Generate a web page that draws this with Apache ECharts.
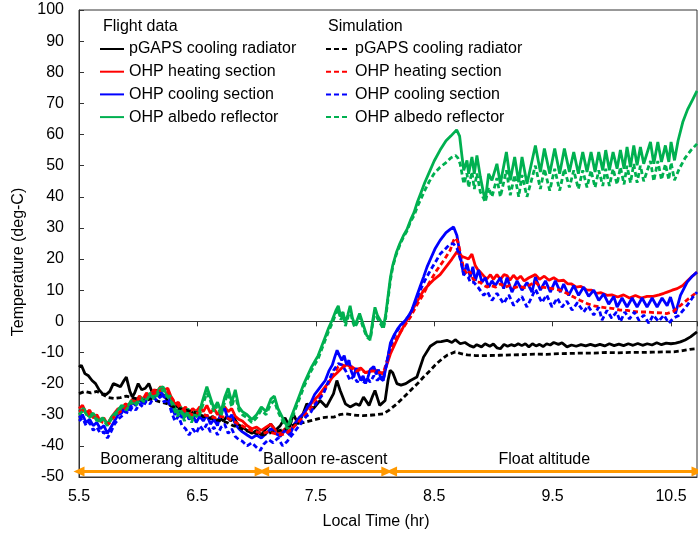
<!DOCTYPE html>
<html><head><meta charset="utf-8">
<script src="https://cdn.jsdelivr.net/npm/echarts@6/dist/echarts.min.js"></script>
<style>html,body{margin:0;padding:0;background:#fff}#c{width:698px;height:534px}</style>
</head><body><div id="c"></div>
<script>
// ---------- DATA ----------
const flightNames = ['pGAPS cooling radiator','OHP heating section','OHP cooling section','OHP albedo reflector'];
const simPrefix = 'Sim: ';
const xTicksStart = 5.5, xEnd = 10.72;
const yTicks = [-50, 100, 10];

const pgapsFlight = [[5.50,-14.7],[5.52,-14.1],[5.55,-16.8],[5.58,-17.5],[5.61,-19],[5.64,-20],[5.67,-22],[5.70,-23.3],[5.73,-23.5],[5.76,-22.5],[5.79,-20],[5.82,-20.5],[5.85,-21],[5.88,-19],[5.90,-17.9],[5.93,-22.5],[5.95,-24.3],[5.97,-23],[6.00,-20],[6.03,-22],[6.06,-21.5],[6.09,-20],[6.12,-23],[6.15,-22],[6.18,-24],[6.21,-23.5],[6.24,-25],[6.27,-27],[6.30,-28],[6.33,-27],[6.36,-29],[6.39,-28.5],[6.42,-30],[6.45,-29],[6.48,-30.5],[6.51,-29.5],[6.54,-31],[6.57,-30],[6.60,-31.5],[6.63,-30.5],[6.66,-32.5],[6.69,-31],[6.72,-32],[6.75,-30.5],[6.78,-32],[6.81,-31],[6.84,-33],[6.88,-34],[6.92,-35],[6.96,-36],[7.00,-35],[7.04,-36.5],[7.08,-34.5],[7.12,-33],[7.16,-35],[7.20,-33.5],[7.24,-31],[7.28,-34],[7.31,-29.7],[7.35,-33],[7.39,-30],[7.424,-26.5],[7.48,-28],[7.537,-25.4],[7.59,-27.5],[7.65,-23.2],[7.678,-19],[7.706,-22.2],[7.75,-26.5],[7.79,-27.5],[7.84,-26.5],[7.87,-27],[7.903,-24.3],[7.95,-27],[7.98,-24],[8.0,-22.2],[8.04,-27],[8.086,-25.4],[8.11,-19],[8.128,-15.7],[8.15,-16.5],[8.185,-20],[8.22,-20.5],[8.26,-20],[8.3,-19],[8.354,-17.9],[8.41,-11.5],[8.467,-8],[8.523,-6.6],[8.56,-6.5],[8.608,-6.1],[8.65,-6.8],[8.678,-5.9],[8.72,-7.2],[8.76,-6.8],[8.80,-7.8],[8.833,-8.3],[8.86,-7.5],[8.9,-8.2],[8.93,-7.2],[8.97,-8],[9.0,-7.3],[9.03,-8.5],[9.059,-8.8],[9.09,-7.4],[9.12,-8],[9.15,-7.5],[9.18,-7.9],[9.21,-7.2],[9.24,-7.8],[9.27,-7.2],[9.3,-8.2],[9.33,-7.2],[9.36,-7.9],[9.39,-7.4],[9.42,-8.1],[9.45,-7.2],[9.48,-7.6],[9.51,-6.8],[9.55,-7.4],[9.58,-6.9],[9.622,-8.2],[9.66,-7.6],[9.7,-8],[9.74,-7.5],[9.78,-7.9],[9.82,-7.4],[9.86,-7.9],[9.9,-7.4],[9.94,-7.9],[9.98,-7.2],[10.02,-7.8],[10.06,-7.3],[10.1,-7.8],[10.14,-7.2],[10.18,-7.7],[10.22,-7.1],[10.26,-7.7],[10.3,-7.2],[10.34,-7.6],[10.38,-6.9],[10.42,-7.5],[10.46,-7],[10.5,-7.2],[10.54,-7],[10.58,-6.6],[10.62,-6],[10.665,-5],[10.72,-3.4]];

const heatFlight = [[5.50,-28],[5.53,-27],[5.56,-29.5],[5.59,-28.5],[5.62,-31],[5.65,-30],[5.68,-32],[5.71,-31],[5.74,-33],[5.77,-31],[5.80,-29.5],[5.83,-28],[5.86,-28.5],[5.89,-26.5],[5.92,-27],[5.95,-25],[5.98,-26],[6.01,-24],[6.04,-25],[6.07,-23],[6.10,-24],[6.13,-22],[6.16,-22.5],[6.19,-21],[6.22,-22],[6.25,-21.5],[6.28,-24.5],[6.31,-26.5],[6.34,-26],[6.37,-28.5],[6.40,-27.5],[6.43,-29.5],[6.46,-28],[6.49,-29],[6.52,-27.5],[6.55,-29],[6.58,-27],[6.61,-29.5],[6.64,-28],[6.67,-30],[6.70,-28],[6.73,-27.5],[6.76,-29],[6.79,-28],[6.82,-30.5],[6.85,-31.5],[6.88,-32],[6.92,-33.5],[6.96,-34.5],[7.00,-34],[7.04,-35],[7.08,-34],[7.12,-33],[7.16,-35],[7.20,-36],[7.24,-34.5],[7.28,-35.5],[7.32,-33],[7.36,-31],[7.40,-29.5],[7.44,-27.5],[7.48,-25.5],[7.52,-24],[7.56,-22],[7.60,-20],[7.64,-18],[7.68,-16.5],[7.72,-15],[7.76,-14],[7.80,-14.5],[7.84,-15.5],[7.88,-15],[7.92,-16.5],[7.96,-16],[8.00,-15.5],[8.04,-16.5],[8.07,-17],[8.10,-14],[8.13,-10.5],[8.16,-8],[8.19,-5.5],[8.24,-1.8],[8.30,2.5],[8.35,6],[8.41,9.9],[8.46,12],[8.50,13.5],[8.55,15],[8.61,18],[8.65,20],[8.692,22.3],[8.72,21],[8.735,20.6],[8.76,20.5],[8.79,20],[8.819,21.6],[8.847,17.9],[8.87,16.5],[8.89,15.8],[8.92,14.5],[8.946,13.6],[8.975,15],[9.0,13.5],[9.03,15],[9.06,13.5],[9.09,15],[9.115,14.7],[9.14,13.2],[9.17,14.8],[9.2,13.5],[9.23,14.5],[9.26,13],[9.3,14],[9.355,15],[9.39,13.5],[9.43,14.5],[9.47,13.2],[9.51,14],[9.55,13],[9.594,13.2],[9.63,12],[9.66,12],[9.7,11],[9.74,11.2],[9.791,10],[9.83,10],[9.87,9],[9.91,9.2],[9.96,8.35],[10.0,8.5],[10.05,7.8],[10.1,8.5],[10.15,7.5],[10.2,8.3],[10.25,7.5],[10.298,8],[10.35,8],[10.4,8.5],[10.44,9],[10.468,9.4],[10.51,10],[10.552,10.5],[10.6,11.5],[10.64,13],[10.68,14.5],[10.72,15.8]];

const coolFlight = [[5.50,-31],[5.53,-30],[5.56,-32.5],[5.59,-31.5],[5.62,-33.5],[5.65,-32.5],[5.68,-34.5],[5.71,-33.5],[5.74,-36],[5.77,-34],[5.80,-32],[5.83,-30],[5.86,-29.5],[5.89,-27.5],[5.92,-28.5],[5.95,-26],[5.98,-27],[6.01,-25],[6.04,-26.5],[6.07,-24],[6.10,-25],[6.13,-23],[6.16,-24],[6.19,-22.5],[6.22,-24.5],[6.25,-23],[6.28,-27],[6.31,-30],[6.34,-28.5],[6.37,-31],[6.40,-29],[6.43,-31.5],[6.46,-30],[6.49,-32.5],[6.52,-30.5],[6.55,-32],[6.58,-30],[6.61,-33],[6.64,-31.5],[6.67,-33.5],[6.70,-29],[6.73,-28],[6.76,-31.5],[6.79,-30],[6.82,-33],[6.85,-34.5],[6.88,-35.5],[6.92,-36.5],[6.96,-37.5],[7.00,-36.5],[7.04,-37.5],[7.08,-36],[7.12,-34.5],[7.16,-36],[7.20,-37],[7.24,-35],[7.28,-36.5],[7.32,-33],[7.36,-31],[7.40,-29.5],[7.43,-27.5],[7.46,-26],[7.49,-23.5],[7.52,-22],[7.55,-20.5],[7.58,-19],[7.61,-16],[7.64,-14],[7.66,-11.5],[7.68,-9.3],[7.70,-11],[7.72,-12.5],[7.74,-11],[7.76,-14],[7.78,-12.5],[7.80,-16],[7.82,-18],[7.84,-15],[7.86,-17],[7.88,-19],[7.90,-17.5],[7.92,-20],[7.94,-18],[7.96,-15.5],[7.99,-14.5],[8.01,-17],[8.03,-15.5],[8.05,-18.5],[8.07,-19],[8.10,-13.5],[8.13,-7],[8.16,-4.5],[8.19,-2.5],[8.22,-1],[8.25,0],[8.28,1.5],[8.31,3.5],[8.35,7.8],[8.38,11],[8.41,14.2],[8.44,17.5],[8.47,20.1],[8.51,23.5],[8.55,26],[8.60,28.5],[8.64,29.7],[8.664,30.3],[8.692,27.6],[8.72,21.2],[8.749,14.8],[8.777,18.5],[8.805,14.2],[8.827,17.5],[8.847,13],[8.875,16.5],[8.904,12.6],[8.932,14],[8.96,11],[8.988,13],[9.016,11.5],[9.059,14],[9.087,10.5],[9.115,14],[9.157,9.4],[9.2,13],[9.242,10],[9.284,12.5],[9.326,9.4],[9.355,14.2],[9.397,10],[9.44,13],[9.481,9.4],[9.523,13],[9.566,9.4],[9.594,12],[9.636,8.35],[9.679,11.5],[9.72,8.35],[9.763,11],[9.805,8],[9.848,10],[9.89,6.7],[9.932,8.8],[9.974,5.5],[10.017,8],[10.045,4.6],[10.087,7.5],[10.129,4.6],[10.172,7.5],[10.214,4.6],[10.256,7.5],[10.298,4.6],[10.341,7.5],[10.383,4.6],[10.425,7.5],[10.468,5],[10.496,7.8],[10.538,2.5],[10.58,8.35],[10.637,12.6],[10.68,14.5],[10.72,15.8]];

const albedoFlight = [[5.50,-29],[5.54,-28],[5.58,-30.5],[5.62,-29.5],[5.66,-32],[5.70,-31],[5.74,-33],[5.78,-30.5],[5.82,-29],[5.86,-27],[5.90,-28],[5.94,-25.5],[5.98,-26.5],[6.02,-24.5],[6.06,-25.5],[6.10,-23],[6.14,-24.5],[6.18,-21.5],[6.21,-21],[6.24,-23.5],[6.27,-24],[6.30,-27],[6.33,-29.5],[6.36,-27.5],[6.39,-31],[6.42,-28],[6.45,-31.5],[6.48,-29],[6.51,-30],[6.54,-26],[6.58,-21],[6.61,-24.5],[6.64,-28],[6.67,-26],[6.70,-29],[6.73,-24.5],[6.76,-21.5],[6.79,-26],[6.82,-22],[6.85,-27.5],[6.88,-29],[6.92,-30],[6.96,-31.5],[7.00,-30],[7.04,-27.5],[7.08,-29],[7.12,-25],[7.15,-24],[7.18,-28],[7.22,-31],[7.26,-34],[7.29,-31],[7.33,-27],[7.37,-23],[7.40,-20],[7.43,-17.5],[7.46,-15],[7.49,-13],[7.52,-11],[7.55,-8],[7.58,-5],[7.61,-2],[7.64,0.5],[7.67,3.5],[7.69,5],[7.71,1.5],[7.73,3],[7.75,-0.5],[7.77,2],[7.79,5],[7.81,1],[7.83,-1],[7.85,0.5],[7.87,2.5],[7.90,-1],[7.93,-4.5],[7.96,-5.5],[7.98,0],[8.00,4.5],[8.02,2],[8.05,0],[8.07,-2],[8.09,2],[8.11,8],[8.13,14],[8.15,18],[8.18,22],[8.21,25],[8.24,27.5],[8.27,29.5],[8.30,32.5],[8.33,35],[8.36,38.5],[8.39,41.5],[8.42,44.5],[8.46,48],[8.50,51.5],[8.55,55],[8.60,58],[8.64,59.5],[8.69,61.5],[8.715,59.5],[8.735,53],[8.75,48.5],[8.777,51.7],[8.791,47.4],[8.819,52.8],[8.839,47.4],[8.861,53.3],[8.89,46.4],[8.918,41],[8.932,38.9],[8.96,47.4],[8.988,45.3],[9.03,50.6],[9.059,44.2],[9.11,54.4],[9.143,45.3],[9.18,52.8],[9.214,44.7],[9.242,52.8],[9.284,44.2],[9.355,56.5],[9.397,48],[9.431,55.5],[9.476,47.4],[9.518,55.5],[9.56,47.4],[9.6,55.5],[9.642,48],[9.679,54.4],[9.718,47.4],[9.755,54.4],[9.791,48],[9.825,54.4],[9.859,48],[9.89,54.4],[9.924,48.5],[9.949,55],[9.98,48.5],[10.011,54.4],[10.045,49],[10.073,55],[10.104,49],[10.129,56],[10.158,49.6],[10.186,56.5],[10.214,50.1],[10.242,56],[10.27,50.6],[10.327,57.6],[10.355,50.6],[10.389,57.6],[10.42,51.2],[10.453,56.5],[10.482,51.2],[10.501,57.6],[10.53,51.7],[10.56,58],[10.6,64],[10.64,68],[10.68,71],[10.72,74]];

const pgapsSim = [[5.50,-23.2],[5.55,-22.5],[5.60,-23],[5.65,-22.5],[5.70,-23.5],[5.75,-24.5],[5.80,-24.8],[5.85,-24.5],[5.90,-24],[5.95,-24.5],[6.00,-25],[6.05,-25.5],[6.10,-25],[6.15,-25.5],[6.20,-26],[6.25,-26.5],[6.30,-27.5],[6.35,-28],[6.40,-28.5],[6.45,-29],[6.50,-29.5],[6.55,-30.5],[6.60,-31],[6.65,-31.5],[6.70,-32],[6.75,-32.5],[6.80,-33.5],[6.85,-34],[6.90,-35],[6.95,-35.5],[7.00,-36],[7.05,-36.5],[7.10,-36],[7.15,-35.5],[7.20,-35],[7.25,-34.5],[7.30,-33.5],[7.35,-33],[7.40,-32.5],[7.45,-32],[7.50,-31.5],[7.55,-31],[7.60,-30.8],[7.65,-30.8],[7.70,-30],[7.75,-29.7],[7.80,-30],[7.85,-30.2],[7.90,-30.3],[7.95,-30.2],[8.00,-30],[8.07,-29.7],[8.12,-28.5],[8.185,-26.5],[8.24,-24.5],[8.3,-22.2],[8.36,-20],[8.41,-17.9],[8.46,-16],[8.52,-13.6],[8.57,-12],[8.608,-10.9],[8.635,-10.5],[8.678,-9.8],[8.72,-10.3],[8.78,-10.8],[8.85,-11],[8.95,-11],[9.05,-10.9],[9.15,-10.8],[9.25,-10.7],[9.35,-10.5],[9.45,-10.6],[9.55,-10.4],[9.65,-10.3],[9.75,-10.2],[9.85,-10.2],[9.95,-10],[10.05,-10.1],[10.15,-10],[10.25,-10],[10.35,-9.9],[10.45,-9.8],[10.524,-9.8],[10.6,-9.4],[10.66,-9],[10.72,-8.8]];

const heatSim = [[5.50,-29],[5.55,-28.5],[5.60,-30.5],[5.65,-31],[5.70,-32.5],[5.75,-33],[5.80,-30.5],[5.85,-29],[5.90,-27.5],[5.95,-26],[6.00,-25],[6.05,-24.5],[6.10,-23.5],[6.15,-23],[6.20,-22],[6.25,-22.5],[6.30,-25.5],[6.35,-27.5],[6.40,-29],[6.45,-30],[6.50,-29.5],[6.55,-30],[6.60,-30.5],[6.65,-31],[6.70,-30.5],[6.75,-31],[6.80,-32],[6.85,-33],[6.90,-34],[6.95,-35],[7.00,-35.5],[7.05,-36],[7.10,-35.5],[7.15,-36],[7.20,-36.5],[7.25,-36],[7.30,-34.5],[7.35,-32.5],[7.40,-30.5],[7.45,-28.5],[7.50,-26],[7.55,-23.5],[7.60,-20.5],[7.65,-17],[7.69,-14.5],[7.72,-14],[7.76,-14.5],[7.80,-15],[7.84,-16],[7.88,-15.5],[7.92,-16.5],[7.96,-16],[8.00,-16],[8.04,-16.5],[8.07,-16.5],[8.10,-13],[8.13,-9.5],[8.185,-5.1],[8.24,-2],[8.3,1.4],[8.35,5],[8.41,8.8],[8.46,12.5],[8.52,16.3],[8.58,19.5],[8.635,22.8],[8.664,26],[8.68,26.8],[8.70,25.5],[8.72,22.3],[8.749,16.9],[8.78,15],[8.80,16],[8.83,13.5],[8.861,12.6],[8.89,12.5],[8.92,11.5],[8.946,11],[8.98,11.5],[9.02,11],[9.06,12],[9.1,11],[9.14,11.5],[9.18,10.8],[9.22,11.3],[9.26,10.8],[9.30,11.5],[9.355,12.6],[9.4,11],[9.45,10.8],[9.5,10.5],[9.566,10],[9.62,9],[9.679,7.8],[9.73,6.8],[9.791,5.7],[9.85,5],[9.904,4.6],[9.96,4.3],[10.017,4.1],[10.07,3.6],[10.13,3.5],[10.18,3.2],[10.242,3],[10.3,3],[10.36,2.8],[10.42,2.7],[10.468,2.5],[10.52,3.2],[10.58,5.1],[10.65,7.3],[10.72,9.4]];

const coolSim = [[5.50,-32],[5.53,-31],[5.56,-33.5],[5.59,-32.5],[5.62,-35],[5.65,-34],[5.68,-36],[5.71,-35.5],[5.74,-37.5],[5.77,-35.5],[5.80,-33],[5.83,-31.5],[5.86,-30.5],[5.89,-29],[5.92,-29.5],[5.95,-27.5],[5.98,-28.5],[6.01,-26.5],[6.04,-27.5],[6.07,-25.5],[6.10,-26.5],[6.13,-24.5],[6.16,-25.5],[6.19,-24],[6.22,-26],[6.25,-25],[6.28,-29],[6.31,-32],[6.34,-30.5],[6.37,-33.5],[6.40,-34.5],[6.43,-36.5],[6.46,-34.5],[6.49,-36],[6.52,-33.5],[6.55,-35],[6.58,-33],[6.61,-35.5],[6.64,-34],[6.67,-36.5],[6.70,-34],[6.73,-33],[6.76,-36],[6.79,-34.5],[6.82,-37],[6.85,-38],[6.88,-38.5],[6.92,-40],[6.96,-39],[7.00,-40.5],[7.03,-41.5],[7.06,-39.5],[7.10,-38],[7.14,-39],[7.18,-37.5],[7.22,-40],[7.26,-38.5],[7.30,-36.5],[7.34,-34.5],[7.38,-32.5],[7.42,-30.5],[7.45,-29.7],[7.50,-26.5],[7.565,-23.2],[7.61,-19],[7.65,-15.7],[7.69,-13.6],[7.72,-14],[7.75,-15.7],[7.79,-19],[7.82,-17.5],[7.85,-19.5],[7.88,-18],[7.903,-20],[7.93,-18],[7.96,-19.5],[7.99,-17.5],[8.02,-19],[8.05,-17.5],[8.07,-19],[8.10,-13],[8.128,-8.2],[8.17,-4],[8.21,-1.8],[8.25,0],[8.3,2.5],[8.34,6],[8.38,9.9],[8.42,13],[8.467,16.3],[8.51,19],[8.55,21.6],[8.6,23.5],[8.635,24.9],[8.664,24.9],[8.692,23.5],[8.72,20.1],[8.749,15.3],[8.79,14],[8.805,12.5],[8.833,12.6],[8.87,11],[8.918,8.35],[8.95,9.5],[8.988,6.7],[9.03,9],[9.087,5.7],[9.13,8.5],[9.171,5.1],[9.24,8],[9.284,4.6],[9.355,10.3],[9.41,6],[9.45,8.5],[9.495,4.6],[9.54,7.5],[9.58,4.6],[9.62,6.5],[9.665,3.6],[9.71,6],[9.763,3],[9.8,5],[9.848,2],[9.89,4.5],[9.918,0.4],[9.96,3.5],[10.0,1],[10.04,3],[10.073,-0.1],[10.11,3],[10.15,0.8],[10.19,3],[10.23,0.3],[10.27,2],[10.313,-0.6],[10.35,2],[10.395,0],[10.44,2],[10.482,-0.6],[10.52,1],[10.566,1.9],[10.637,5.1],[10.68,7.5],[10.72,9.4]];

const albedoSim = [[5.50,-30],[5.54,-28.5],[5.58,-31],[5.62,-30],[5.66,-32.5],[5.70,-31.5],[5.74,-33.5],[5.78,-31],[5.82,-29.5],[5.86,-27.5],[5.90,-28.5],[5.94,-26],[5.98,-27],[6.02,-25],[6.06,-26],[6.10,-23.5],[6.14,-25],[6.18,-22.5],[6.21,-22],[6.24,-24],[6.27,-25],[6.30,-28],[6.33,-30.5],[6.36,-28.5],[6.39,-32],[6.42,-29],[6.45,-32.5],[6.48,-30],[6.51,-31],[6.54,-27.5],[6.58,-23],[6.61,-25.5],[6.64,-29],[6.67,-27],[6.70,-30.5],[6.73,-26],[6.76,-23],[6.79,-27.5],[6.82,-23.5],[6.85,-28.5],[6.88,-30],[6.92,-31],[6.96,-32.5],[7.00,-31],[7.04,-28.5],[7.08,-30],[7.12,-26.5],[7.15,-25.5],[7.18,-29],[7.22,-32],[7.26,-34.5],[7.29,-32],[7.33,-28],[7.37,-24],[7.40,-21],[7.43,-18.5],[7.46,-16],[7.49,-14],[7.52,-12],[7.55,-9],[7.58,-6],[7.61,-3],[7.64,-0.5],[7.67,2.5],[7.69,4],[7.71,0.5],[7.73,2],[7.75,-1.5],[7.77,1],[7.79,4],[7.81,0],[7.83,-2],[7.85,-0.5],[7.87,1.5],[7.90,-2],[7.93,-5],[7.96,-6],[7.98,-1],[8.00,3.5],[8.02,1],[8.05,-1],[8.07,-2.5],[8.09,1],[8.11,7],[8.13,13],[8.15,17.5],[8.18,21.5],[8.21,24.5],[8.24,27],[8.27,29],[8.30,32],[8.33,34],[8.36,37],[8.39,39.5],[8.42,42],[8.46,45],[8.50,47.5],[8.55,49.5],[8.60,51],[8.64,52.5],[8.68,53.3],[8.70,52.5],[8.72,50.5],[8.735,47.4],[8.75,44.2],[8.777,47.5],[8.791,43],[8.819,48],[8.839,42.5],[8.861,47.5],[8.89,41.5],[8.918,39.5],[8.932,38.3],[8.96,43],[8.988,40],[9.03,46],[9.059,40],[9.11,48.5],[9.143,40.5],[9.18,47],[9.214,40],[9.242,47],[9.284,40],[9.355,50],[9.397,42.5],[9.431,49],[9.476,42],[9.518,49],[9.56,42],[9.6,49],[9.642,43],[9.679,48.5],[9.718,42.5],[9.755,48.5],[9.791,43],[9.825,48.5],[9.859,43],[9.89,48.5],[9.924,43.5],[9.949,49],[9.98,43.5],[10.011,49],[10.045,44],[10.073,49.5],[10.104,44],[10.129,50],[10.158,44.5],[10.186,50.5],[10.214,44.5],[10.242,50],[10.27,45],[10.327,51.5],[10.355,45],[10.389,51.5],[10.42,45.5],[10.453,50.5],[10.482,45.5],[10.501,51],[10.53,45.3],[10.57,49],[10.62,52.5],[10.67,55],[10.72,57]];

const phaseLabels = ['Boomerang altitude','Balloon re-ascent','Float altitude'];
const phaseStart = [5.5, 7.06, 8.14];
const phaseEnd = [7.03, 8.10, 10.72];
const phaseLevel = -48.2;

// ---------- CHART ----------
const FONT = "'Liberation Sans', Arial, sans-serif";
const colors = ['#000000','#FF0000','#0000FF','#00B050'];
const flightData = [pgapsFlight, heatFlight, coolFlight, albedoFlight];
const simData = [pgapsSim, heatSim, coolSim, albedoSim];

function mk(name, data, color, dashed) {
  return {
    type: 'line', name, data, symbol: 'none', showSymbol: false, silent: true,
    lineStyle: { color, width: 2.8, type: dashed ? [5, 3] : 'solid' },
    itemStyle: { color }, animation: false
  };
}
const series = [];
flightNames.forEach((n, i) => series.push(mk(n, flightData[i], colors[i], false)));
flightNames.forEach((n, i) => series.push(mk(simPrefix + n, simData[i], colors[i], true)));
series.push({
  type: 'line', name: 'phases', data: [], silent: true, animation: false,
  markLine: {
    silent: true, animation: false,
    symbol: ['triangle', 'triangle'], symbolSize: [10, 11],
    lineStyle: { color: '#FF9900', width: 3, type: 'solid' },
    label: { show: true, position: 'middle', formatter: '{b}', color: '#000', fontSize: 16, fontFamily: FONT, distance: 4 },
    data: phaseLabels.map((lab, i) => [
      { name: lab, coord: [phaseStart[i], phaseLevel] },
      { coord: [phaseEnd[i], phaseLevel] }
    ])
  }
});

const legendCommon = {
  orient: 'vertical', top: 41, padding: 0, itemWidth: 24, itemHeight: 16, itemGap: 6.7,
  textStyle: { color: '#000', fontSize: 16, fontFamily: FONT },
  itemStyle: { opacity: 0, borderWidth: 0 },
  selectedMode: false
};

const chart = echarts.init(document.getElementById('c'), null, { renderer: 'canvas' });
chart.setOption({
  animation: false,
  backgroundColor: '#fff',
  grid: { left: 79, right: 1, top: 10, bottom: 57, show: true, borderColor: '#333', borderWidth: 1 },
  xAxis: [
    {
      type: 'value', min: xTicksStart, max: xEnd, interval: 1,
      axisLine: { onZero: false, lineStyle: { color: '#333', width: 1 } },
      axisTick: { show: false },
      axisLabel: { color: '#000', fontSize: 16, fontFamily: FONT, margin: 12, showMaxLabel: false,
        formatter: v => v.toFixed(1) },
      splitLine: { show: false }
    },
    {
      type: 'value', min: xTicksStart, max: xEnd, interval: 1, position: 'bottom',
      axisLine: { onZero: true, lineStyle: { color: '#333', width: 1 } },
      axisTick: { show: true, inside: false, length: 5, lineStyle: { color: '#333' } },
      axisLabel: { show: false },
      splitLine: { show: false }
    }
  ],
  yAxis: {
    type: 'value', min: yTicks[0], max: yTicks[1], interval: yTicks[2],
    axisLine: { show: true, onZero: false, lineStyle: { color: '#333', width: 1 } },
    axisTick: { show: true, inside: true, length: 5, lineStyle: { color: '#333' } },
    axisLabel: { color: '#000', fontSize: 16, fontFamily: FONT, margin: 15 },
    splitLine: { show: false }
  },
  legend: [
    Object.assign({}, legendCommon, { left: 99, data: flightNames }),
    Object.assign({}, legendCommon, { left: 325, data: flightNames.map(n => simPrefix + n),
      formatter: n => n.replace(simPrefix, '') })
  ],
  graphic: [
    { type: 'text', x: 103, y: 27, silent: true,
      style: { text: 'Flight data', font: '16px ' + FONT, fill: '#000', verticalAlign: 'middle', textVerticalAlign: 'middle' } },
    { type: 'text', x: 328, y: 27, silent: true,
      style: { text: 'Simulation', font: '16px ' + FONT, fill: '#000', verticalAlign: 'middle', textVerticalAlign: 'middle' } },
    { type: 'text', x: 19, y: 262, rotation: Math.PI / 2, silent: true,
      style: { text: 'Temperature (deg-C)', font: '16px ' + FONT, fill: '#000', align: 'center', textAlign: 'center', verticalAlign: 'middle', textVerticalAlign: 'middle' } },
    { type: 'text', x: 376, y: 522, silent: true,
      style: { text: 'Local Time (hr)', font: '16px ' + FONT, fill: '#000', align: 'center', textAlign: 'center', verticalAlign: 'middle', textVerticalAlign: 'middle' } }
  ],
  series
});
</script></body></html>
